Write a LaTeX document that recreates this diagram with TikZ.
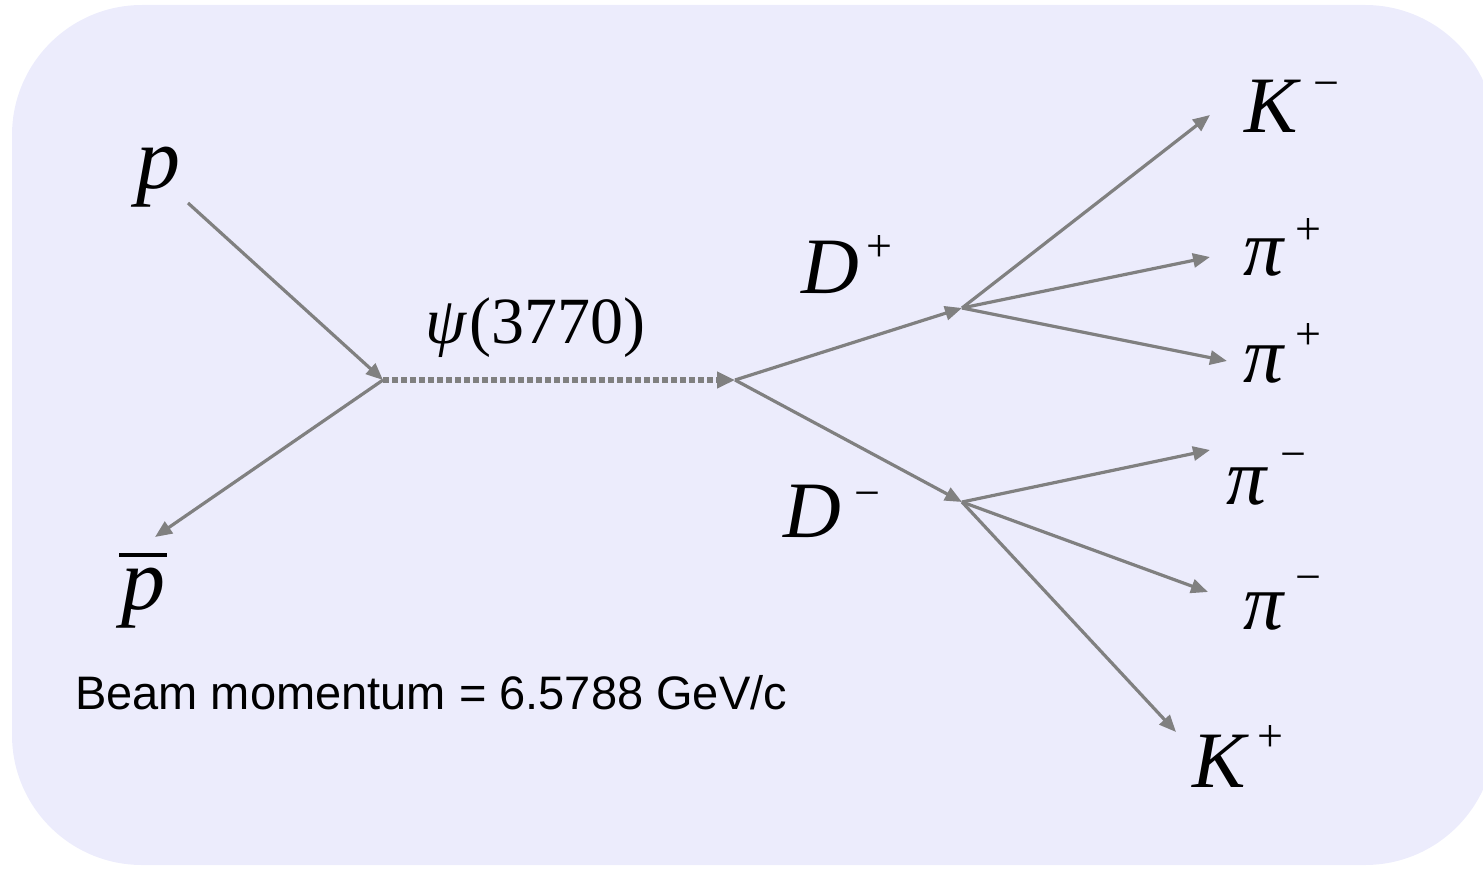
\documentclass[tikz,border=0pt]{standalone}
\usepackage{fontspec}
\setmainfont{Liberation Serif}
\setsansfont{Liberation Sans}
\usetikzlibrary{arrows.meta}
\definecolor{bgfill}{RGB}{236,236,252}
\definecolor{linegray}{RGB}{128,128,128}
\newcommand\plab[4]{{\fontsize{80}{80}\selectfont\itshape #1}\kern#3\raisebox{#4}{\fontsize{46}{46}\selectfont #2}}
\begin{document}
\begin{tikzpicture}[x=1pt,y=-1pt,
  conn/.style={draw=linegray,line width=3.2pt,-{Triangle[length=17pt,width=14pt]}},
  dotconn/.style={draw=linegray,line width=5.5pt,dash pattern=on 5.5pt off 3.5pt,-{Triangle[length=18pt,width=16pt]}},
  lab/.style={inner sep=0pt,anchor=base west,text=black},
  beam/.style={inner sep=0pt,anchor=base west,font=\sffamily\fontsize{47}{47}\selectfont}]
\useasboundingbox (0,0) rectangle (1483,869);
\fill[bgfill,rounded corners=130pt] (12,5) rectangle (1495,865);
% vertices
\coordinate (v1) at (383,380);
\coordinate (v2) at (735,380);
\coordinate (dp) at (962,308);
\coordinate (dm) at (962,502);
\coordinate (ps) at (188,203);
\coordinate (pbt) at (155,537);
\coordinate (t1) at (1210,115);
\coordinate (t2) at (1210,257);
\coordinate (t3) at (1227,361);
\coordinate (t4) at (1210,450);
\coordinate (t5) at (1208,592);
\coordinate (t6) at (1176,732);
% labels
\node[lab] (p) at (136,189) {\fontsize{88}{88}\selectfont\itshape p};
\node[lab] (pbar) at (121,609) {\fontsize{88}{88}\selectfont\itshape p};
\draw[black,line width=3.2pt] (119,555) -- (167,555);
\node[lab] (psi) at (425,343) {\fontsize{66}{66}\selectfont{\itshape ψ}\kern3pt(3770)};
\node[lab] (Dp) at (801,293) {\plab{D}{+}{8pt}{32pt}};
\node[lab] (Dm) at (783,537) {\plab{D}{−}{14pt}{29pt}};
\node[lab] (Km) at (1244,133) {\plab{K}{−}{16pt}{34pt}};
\node[lab] (pip1) at (1243,275) {\plab{π}{+}{12pt}{31pt}};
\node[lab] (pip2) at (1243,382) {\plab{π}{+}{12pt}{33pt}};
\node[lab] (pim1) at (1226,504) {\plab{π}{−}{14pt}{35pt}};
\node[lab] (pim2) at (1243,629) {\plab{π}{−}{12pt}{37pt}};
\node[lab] (Kp) at (1192,787) {\plab{K}{+}{12pt}{36pt}};
\node[beam] (bm) at (75,709) {Beam momentum = 6.5788 GeV/c};
% connectors
\draw[conn] (ps) -- (v1);
\draw[conn] (v1) -- (pbt);
\draw[dotconn] (v1) -- (v2);
\draw[conn] (v2) -- (dp);
\draw[conn] (v2) -- (dm);
\draw[conn] (dp) -- (t1);
\draw[conn] (dp) -- (t2);
\draw[conn] (dp) -- (t3);
\draw[conn] (dm) -- (t4);
\draw[conn] (dm) -- (t5);
\draw[conn] (dm) -- (t6);
\end{tikzpicture}
\end{document}
